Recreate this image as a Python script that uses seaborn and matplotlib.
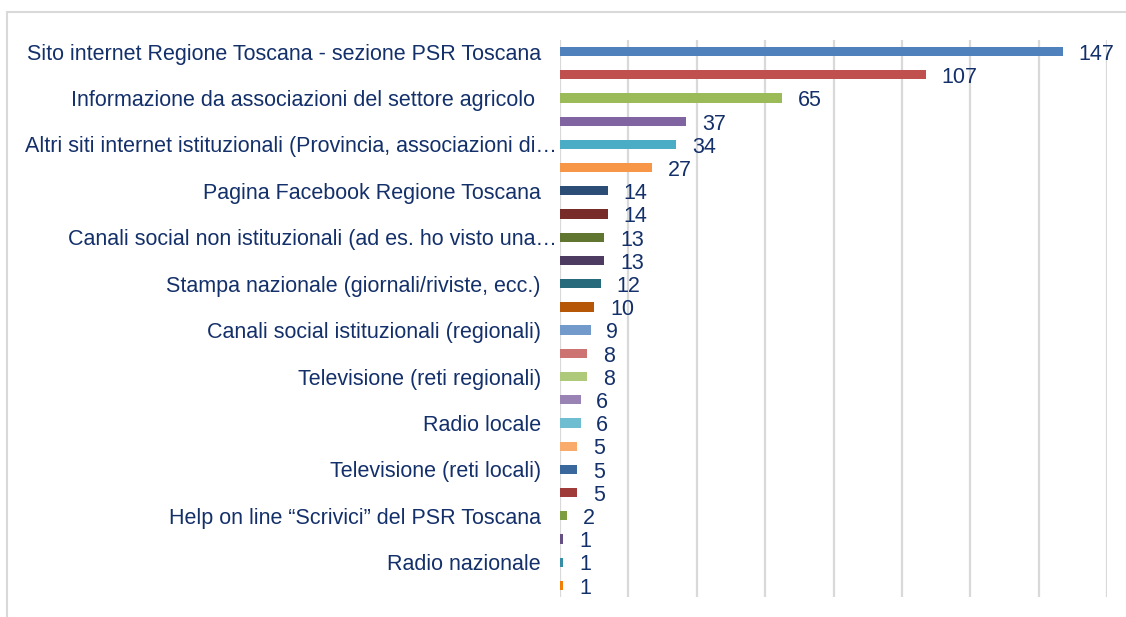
import seaborn as sns
import pandas as pd
import matplotlib.pyplot as plt
from matplotlib.patches import Rectangle
from matplotlib.transforms import ScaledTranslation

# category labels as shown (Excel only printed every other one)
labels = ['Sito internet Regione Toscana - sezione PSR Toscana', '',
          'Informazione da associazioni del settore agricolo ', '',
          'Altri siti internet istituzionali (Provincia, associazioni di\u2026', '',
          'Pagina Facebook Regione Toscana', '',
          'Canali social non istituzionali (ad es. ho visto una\u2026', '',
          'Stampa nazionale (giornali/riviste, ecc.)', '',
          'Canali social istituzionali (regionali)', '',
          'Televisione (reti regionali)', '',
          'Radio locale', '',
          'Televisione (reti locali)', '',
          'Help on line \u201cScrivici\u201d del PSR Toscana', '',
          'Radio nazionale', '']
values = [147, 107, 65, 37, 34, 27, 14, 14, 13, 13, 12, 10,
          9, 8, 8, 6, 6, 5, 5, 5, 2, 1, 1, 1]
colors = ['#4F81BD', '#C0504D', '#9BBB59', '#8064A2', '#4BACC6', '#F79646',
          '#2C4D75', '#772C2A', '#5F7530', '#4D3B62', '#276A7C', '#B65708',
          '#729ACA', '#CD7371', '#AFC97A', '#9983B5', '#6FBDD1', '#F9AB6B',
          '#3A679C', '#9F3B38', '#7E9D40', '#664F83', '#358EA6', '#F07F09']

txt = '#14306A'
df = pd.DataFrame({'pos': [str(i) for i in range(len(values))], 'n': values})

plt.rcParams['font.family'] = ['Liberation Sans', 'DejaVu Sans']
fig = plt.figure(figsize=(11.26, 6.17), dpi=100)
ax = fig.add_axes([560 / 1126, 1 - 597 / 617, 547 / 1126, 557 / 617])

sns.barplot(data=df, y='pos', x='n', hue='pos', palette=colors, legend=False,
            orient='h', width=0.4, saturation=1, ax=ax, zorder=3)

ax.set_xlim(0, 160)
ax.set_xticks(range(0, 161, 20))
ax.tick_params(axis='x', length=0, labelbottom=False)
ax.tick_params(axis='y', length=0, pad=13.7)
ax.set_yticks(range(len(labels)))
ax.set_yticklabels(labels, fontsize=15.5, color=txt)
# truncated labels run a little past the others, as in Excel
for lab in ax.get_yticklabels():
    if lab.get_text().endswith('\u2026'):
        lab.set_transform(lab.get_transform() +
                          ScaledTranslation(0.16, 0, fig.dpi_scale_trans))
ax.grid(axis='x', color='#D9D9D9', linewidth=1.6, zorder=0)
ax.set_axisbelow(True)
for s in ax.spines.values():
    s.set_visible(False)
ax.set_xlabel('')
ax.set_ylabel('')

for i, v in enumerate(values):
    ax.text(v + 4.6, i + 0.12, str(v), va='center', ha='left',
            fontsize=15.5, color=txt)

# outer chart border (partly cropped in the original)
fig.patches.append(Rectangle((7 / 1126, -0.05), 1.1, 1 - 12 / 617 + 0.05,
                             transform=fig.transFigure, fill=False,
                             edgecolor='#D9D9D9', linewidth=1.5))

fig.savefig('out.png', dpi=100)
